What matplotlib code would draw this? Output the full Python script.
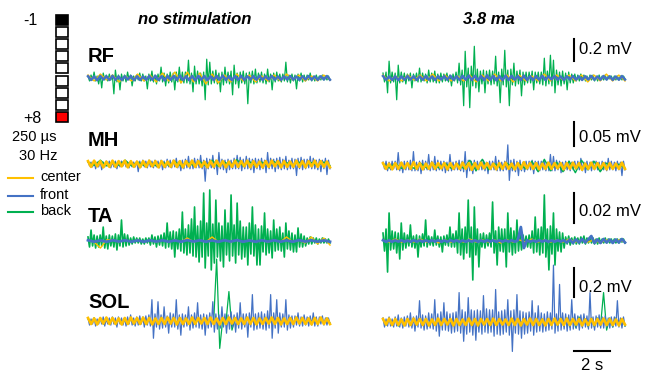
import numpy as np
import matplotlib.pyplot as plt
from matplotlib.patches import Rectangle

plt.rcParams['font.family'] = ['Liberation Sans', 'DejaVu Sans']

CENTER = '#FFC000'
FRONT = '#4472C4'
BACK = '#00B050'

DURATION = 13.4  # seconds shown in each panel

# EMG swings, in µV
rf_nostim_back = [18, -27, 27, -18, 54, -27, 18, -54, 27, -90, 45, -18, 27, -27, 36, -18,
                  27, -144, 72, -36, 27, -108, 36, -27, 27, -36, 54, -18, 27, -72, 18, -27,
                  27, -18, 45, -27, 36, -27, 18, -99, 36, -27, 63, -36, 27, -54, 36, -27,
                  99, -36, 45, -72, 36, -45, 54, -36, 45, -108, 54, -36, 99, -45, 54, -45,
                  54, -45, 162, -54, 45, -126, 108, -54, 63, -54, 45, -72, 54, -198, 171, -63,
                  144, -54, 63, -45, 72, -54, 45, -126, 54, -63, 99, -45, 54, -54, 63, -153,
                  117, -54, 45, -90, 54, -45, 63, -54, 45, -234, 54, -45, 63, -54, 81, -45,
                  45, -36, 54, -45, 36, -54, 81, -36, 36, -108, 45, -36, 54, -27, 36, -36,
                  36, -27, 144, -36, 27, -45, 36, -27, 27, -99, 36, -27, 45, -36, 27, -27,
                  27, -18, 45, -27, 18, -27, 27, -18, 18, -18, 27, -18, 18, -18, 18, -18]
rf_nostim_front = [16, -18, 14, -20, 18, -14, 16, -18, 20, -16, 14, -18, 16, -14, 18, -20, 16, -18, 14, -16,
                   18, -16, 20, -18, 16, -22, 18, -16, 20, -18, 22, -18, 16, -20, 18, -22, 20, -16, 18, -20,
                   16, -18, 20, -16, 22, -18, 16, -20, 18, -16, 20, -18, 16, -14, 18, -16, 20, -18, 16, -14,
                   18, -16, 14, -18, 16, -14, 18, -16, 14, -18, 16, -14, 18, -16, 14, -18, 16, -14, 18, -16]
rf_nostim_center = [27, -27, 36, -18, 27, -36, 18, -27, 36, -27, 27, -36, 45, -27, 54, -45, 54, -36, 45, -54,
                    36, -45, 27, -36, 36, -27, 27, -36, 18, -27, 27, -27, 36, -18, 27, -27, 18, -27, 27, -18]

rf_stim_back = [45, -36, 54, -135, 153, -45, 54, -36, 45, -198, 117, -45, 54, -36, 45, -54,
                36, -27, 45, -90, 36, -27, 45, -36, 90, -36, 45, -27, 36, -45, 72, -36,
                45, -36, 63, -45, 36, -45, 45, -36, 36, -27, 45, -36, 27, -72, 36, -27,
                54, -45, 135, -63, 72, -252, 243, -81, 90, -270, 108, -72, 288, -90, 81, -126,
                63, -54, 72, -135, 63, -54, 72, -63, 63, -54, 198, -72, 54, -225, 81, -63,
                252, -81, 72, -252, 81, -63, 135, -72, 63, -54, 72, -162, 54, -63, 54, -45,
                54, -45, 63, -108, 54, -45, 54, -54, 54, -63, 180, -72, 63, -54, 207, -72,
                162, -135, 72, -63, 54, -72, 63, -54, 45, -108, 54, -45, 36, -45, 36, -27,
                27, -27, 36, -18, 27, -27, 18, -27, 27, -18, 27, -27, 18, -27, 27, -18,
                18, -18, 27, -18, 18, -9, 18, -18, 18, -18, 18, -18, 18, -18, 18, -9]
rf_stim_front = [18, -16, 14, -18, 16, -20, 14, -16, 18, -14, 16, -18, 14, -16, 18, -16, 14, -18, 16, -14,
                 18, -16, 20, -18, 16, -18, 20, -16, 22, -18, 20, -22, 18, -20, 24, -18, 20, -22, 18, -20,
                 22, -18, 20, -16, 18, -20, 22, -18, 16, -20, 18, -16, 20, -18, 16, -14, 18, -16, 14, -18,
                 16, -14, 18, -16, 14, -18, 16, -14, 18, -16, 14, -16, 18, -14, 16, -18, 14, -16, 18, -14]
rf_stim_center = [27, -27, 18, -27, 27, -18, 27, -27, 36, -27, 27, -27, 18, -27, 27, -36, 27, -27, 36, -27,
                  27, -36, 27, -27, 18, -27, 36, -27, 27, -18, 27, -27, 27, -36, 27, -27, 36, -27, 27, -27]

mh_nostim_front = [6, -4, 4, -6, 6, -10, 4, -6, 6, -12, 4, -6, 6, -4, 6, -8,
                   4, -6, 6, -10, 4, -6, 6, -4, 6, -6, 4, -8, 6, -6, 4, -6,
                   6, -16, 6, -6, 8, -6, 6, -8, 8, -6, 6, -8, 8, -6, 6, -8,
                   8, -12, 6, -8, 10, -6, 8, -8, 8, -6, 12, -8, 6, -14, 8, -10,
                   10, -8, 16, -10, 8, -10, 12, -8, 10, -8, 18, -10, 8, -36, 12, -10,
                   10, -8, 18, -10, 8, -22, 24, -10, 10, -12, 8, -18, 10, -12, 8, -10,
                   12, -10, 18, -10, 14, -14, 10, -10, 16, -10, 12, -12, 10, -18, 12, -10,
                   10, -12, 12, -10, 8, -18, 24, -10, 12, -10, 10, -16, 12, -10, 14, -12,
                   10, -10, 16, -12, 8, -10, 12, -10, 10, -24, 12, -10, 14, -12, 10, -10,
                   10, -8, 16, -10, 12, -10, 8, -12, 10, -16, 8, -10, 12, -22, 8, -10]
mh_nostim_back = [4, -3, 8, -4, 5, -3, 8, -4, 4, -3, 3, -4, 4, -3, 5, -4, 4, -3, 5, -4,
                  8, -5, 4, -3, 9, -4, 5, -3, 4, -3, 5, -4, 3, -3, 4, -3, 3, -3, 4, -3]
mh_nostim_center = [6, -6, 7, -5, 6, -7, 5, -6, 7, -6, 6, -5, 7, -7, 6, -6, 5, -7, 6, -6,
                    7, -5, 6, -7, 6, -6, 5, -6, 7, -6, 6, -7, 6, -5, 7, -6, 6, -6, 5, -7,
                    6, -6, 7, -5, 6, -7, 5, -6, 7, -6, 6, -5, 7, -7, 6, -6, 5, -7, 6, -6,
                    7, -5, 6, -7, 6, -6, 5, -6, 7, -6, 6, -7, 6, -5, 7, -6, 6, -6, 5, -7]

mh_stim_front = [8, -6, 10, -10, 8, -8, 10, -6, 10, -8, 28, -10, 8, -14, 10, -8,
                 10, -8, 12, -10, 30, -10, 8, -10, 10, -16, 12, -8, 10, -8, 24, -10,
                 10, -8, 20, -10, 12, -8, 10, -10, 10, -14, 8, -10, 24, -10, 8, -8,
                 10, -8, 12, -10, 10, -12, 30, -24, 12, -10, 10, -16, 12, -10, 10, -8,
                 10, -8, 12, -10, 8, -16, 10, -8, 10, -8, 20, -10, 12, -10, 8, -10,
                 10, -8, 44, -30, 12, -10, 14, -12, 10, -20, 12, -10, 8, -12, 10, -8,
                 10, -8, 12, -16, 10, -8, 10, -10, 10, -8, 12, -10, 8, -10, 24, -10,
                 20, -10, 12, -8, 10, -14, 8, -10, 10, -8, 10, -10, 8, -8, 10, -8,
                 10, -8, 16, -10, 8, -14, 10, -8, 8, -10, 10, -8, 10, -8, 8, -10,
                 10, -8, 8, -10, 16, -8, 10, -8, 8, -10, 10, -8, 8, -20, 10, -8]
mh_stim_back = [5, -4, 6, -5, 4, -5, 6, -4, 5, -4, 6, -5, 4, -5, 12, -10, 14, -8, 5, -4,
                6, -5, 4, -6, 10, -12, 14, -10, 8, -12, 10, -14, 12, -8, 10, -12, 6, -5, 4, -5]
mh_stim_center = [6, -6, 5, -7, 6, -6, 7, -5, 6, -6, 8, -6, 6, -7, 5, -6, 7, -6, 6, -5,
                  6, -7, 6, -6, 5, -6, 7, -6, 6, -8, 6, -6, 7, -5, 6, -6, 5, -7, 6, -6,
                  7, -6, 5, -7, 6, -6, 8, -5, 6, -6, 6, -7, 5, -6, 7, -6, 6, -5, 6, -7,
                  6, -6, 7, -5, 6, -8, 5, -6, 7, -6, 6, -5, 6, -7, 6, -6, 5, -6, 7, -6]

ta_nostim_back = [2.7, -4.0, 7.3, -3.3, 4.0, -4.7, 3.3, -4.0, 4.0, -3.3, 9.3, -4.7, 3.3, -5.3, 4.0, -3.3,
                  3.3, -4.0, 4.7, -6.0, 4.0, -3.3, 14.0, -4.0, 4.7, -3.3, 4.0, -2.7, 2.0, -2.0, 2.7, -1.3,
                  2.0, -1.3, 2.0, -2.0, 1.3, -2.0, 2.0, -1.3, 2.0, -2.7, 4.0, -2.0, 2.7, -4.0, 3.3, -2.7,
                  4.0, -3.3, 5.3, -4.7, 12.0, -4.0, 6.0, -5.3, 6.7, -10.7, 6.0, -5.3, 8.0, -6.7, 19.3, -8.0,
                  8.0, -9.3, 10.7, -8.0, 14.7, -10.0, 22.7, -10.7, 10.0, -14.0, 13.3, -10.7, 32.0, -18.0, 12.0, -10.0,
                  34.0, -19.3, 11.3, -14.7, 27.3, -10.7, 12.0, -13.3, 10.0, -17.3, 20.7, -9.3, 12.0, -13.3, 30.7, -10.0,
                  10.7, -14.7, 25.3, -9.3, 13.3, -12.0, 9.3, -10.7, 9.3, -16.0, 12.0, -8.7, 22.7, -10.0, 10.7, -16.0,
                  8.0, -16.0, 10.0, -7.3, 18.7, -9.3, 8.0, -8.0, 6.7, -11.3, 14.0, -6.7, 8.0, -6.0, 9.3, -6.7,
                  5.3, -10.7, 12.0, -5.3, 6.7, -6.0, 5.3, -7.3, 4.0, -7.3, 8.7, -4.0, 4.7, -4.0, 3.3, -3.3,
                  2.0, -2.0, 2.7, -2.0, 2.0, -1.3, 2.0, -2.0, 1.3, -1.3, 2.0, -1.3, 1.3, -1.3, 1.3, -1.3]
ta_nostim_front = [0.5, -0.5, 0.4, -0.5, 0.5, -0.4, 0.5, -0.5, 0.4, -0.5, 0.5, -0.4, 0.5, -0.5, 0.4, -0.5, 0.6, -0.4, 0.5, -0.5,
                   0.4, -0.5, 0.5, -0.4, 0.6, -0.5, 0.4, -0.5, 0.5, -0.4, 0.5, -0.5, 0.4, -0.5, 0.6, -0.4, 0.5, -0.5, 0.4, -0.5]
ta_nostim_center = [0.7, -0.7, -4.7, 0.7, 0.7, -0.7, 0.7, -0.7, 0.7, -0.7, 0.7, -0.7, 0.7, -0.7, 0.7, -0.7, 2.0, -0.7, 0.7, -0.7,
                    2.7, -0.7, 0.7, -0.7, 0.7, -0.7, 0.7, -0.7, 0.7, -0.7, 0.7, -0.7, 2.7, -0.7, 0.7, -1.3, 2.7, -2.0, 2.0, -2.7]

ta_stim_back = [5.3, -6.7, 8.0, -20.7, 18.7, -6.0, 6.7, -5.3, 6.0, -8.0, 5.3, -12.0, 12.0, -6.0, 5.3, -4.7,
                4.0, -3.3, 10.7, -4.0, 3.3, -4.7, 4.0, -10.7, 3.3, -4.0, 4.7, -3.3, 14.0, -4.0, 3.3, -2.7,
                2.7, -3.3, 7.3, -2.7, 3.3, -4.0, 2.7, -7.3, 3.3, -2.7, 4.0, -3.3, 9.3, -4.0, 4.7, -4.0,
                6.7, -8.0, 18.7, -9.3, 8.0, -12.0, 9.3, -8.0, 27.3, -10.7, 9.3, -26.0, 22.7, -9.3, 8.0, -17.3,
                4.7, -4.0, 5.3, -4.7, 4.0, -3.3, 5.3, -4.0, 26.0, -8.0, 6.7, -16.0, 9.3, -6.7, 8.0, -7.3,
                8.0, -17.3, 18.7, -7.3, 8.7, -9.3, 6.7, -8.0, 14.0, -6.7, 5.3, -6.0, 4.0, -3.3, 3.3, -4.0,
                4.0, -4.7, 6.7, -8.0, 16.0, -7.3, 8.0, -9.3, 9.3, -8.0, 30.7, -10.7, 8.0, -19.3, 10.0, -8.7,
                18.7, -16.0, 8.0, -6.7, 6.0, -7.3, 5.3, -4.7, 2.7, -2.0, 3.3, -2.7, 2.0, -2.0, 2.7, -2.0,
                2.0, -2.0, 2.7, -1.3, 3.3, -2.0, 2.0, -1.3, 2.0, -1.3, 2.0, -2.0, 1.3, -2.0, 2.0, -1.3,
                1.3, -1.3, 2.0, -1.3, 1.3, -1.3, 1.3, -1.3, 1.3, -1.3, 1.3, -1.3, 1.3, -0.7, 1.3, -1.3]
ta_stim_front = [0.5, -0.5, 0.4, -0.5, 0.5, -0.4, 0.5, -0.5, 0.4, -0.5, 0.5, -0.4, 0.5, -0.5, 0.4, -0.5, 0.5, -0.4, 0.5, -0.5,
                 0.4, -0.5, 0.5, -0.4, 0.5, -0.5, 0.4, -0.5, 0.5, -0.4, 0.5, -0.5, 0.4, -0.5, 0.5, -0.4, 0.5, -0.5, 0.4, -0.5,
                 0.5, -0.4, 0.5, -0.5, 0.4, 9.3, -4.7, 0.5, -0.5, 0.4, -0.5, 0.5, -0.4, 0.5, -0.5, 0.4, -0.5, 0.5, -0.4, 0.5,
                 -1.0, 1.0, -1.3, 1.0, -1.0, 1.3, -1.0, 1.0, 3.3, -1.3, 1.0, -1.3, 1.3, -1.0, 1.0, -1.3, 1.0, -1.0, 1.3, -1.0]
ta_stim_center = [0.7, -0.7, 1.3, -0.7, 0.7, -0.7, 1.3, -0.7, 0.7, -1.3, 0.7, -0.7, 0.7, -0.7, 1.3, -0.7, 0.7, -0.7, 0.7, -1.3,
                  0.7, -0.7, 0.7, -0.7, 1.3, -0.7, 0.7, -0.7, 0.7, -0.7, 1.3, -0.7, 0.7, -0.7, 0.7, -1.3, 0.7, -0.7, 0.7, -0.7]

sol_nostim_front = [21, -28, 14, -21, 21, -35, 14, -21, 21, -21, 28, -35, 14, -21, 21, -28,
                    28, -21, 21, -42, 28, -21, 21, -28, 21, -35, 28, -21, 42, -28, 21, -35,
                    28, -28, 35, -21, 28, -42, 35, -28, 42, -35, 147, -119, 49, -42, 133, -56,
                    42, -49, 98, -42, 35, -84, 56, -42, 49, -42, 147, -56, 42, -98, 49, -42,
                    42, -35, 98, -63, 42, -49, 56, -42, 126, -49, 42, -56, 49, -98, 42, -49,
                    56, -42, 133, -77, 49, -56, 42, -49, 98, -42, 49, -84, 42, -56, 63, -42,
                    42, -77, 56, -49, 126, -56, 49, -42, 49, -112, 56, -42, 182, -63, 49, -56,
                    56, -49, 63, -56, 49, -63, 70, -49, 182, -119, 56, -49, 147, -84, 56, -42,
                    49, -42, 147, -63, 42, -49, 35, -42, 35, -28, 56, -35, 28, -35, 42, -28,
                    28, -35, 35, -28, 56, -35, 28, -35, 28, -21, 35, -28, 21, -28, 21, -21]
sol_nostim_back = [14, -14, 21, -14, 14, -21, 14, -14, 21, -14, 14, -14, 21, -14, 14, -21, 14, -14, 21, -14,
                   14, -21, 14, -14, 21, -14, 14, -14, 21, -14, 14, -21, 14, -14, 21, -14, 14, -14, 21, -14,
                   14, -14, 427, -189, 14, -14, 203, -63, 14, -21, 14, -14, 21, -14, 14, -21, 14, -14, 21, -14,
                   14, -14, 21, -14, 14, -21, 14, -14, 21, -14, 14, -21, 14, -14, 21, -14, 14, -14, 21, -14]
sol_nostim_center = [21, -21, 18, -24, 21, -18, 24, -21, 21, -21, 18, -24, 21, -21, 24, -18, 21, -21, 24, -21,
                     21, -24, 18, -21, 21, -21, 24, -18, 21, -24, 21, -21, 18, -21, 24, -21, 21, -18, 21, -21,
                     24, -21, 18, -24, 21, -21, 24, -18, 21, -21, 18, -21, 24, -21, 21, -24, 18, -21, 21, -18,
                     24, -21, 21, -24, 18, -21, 21, -21, 24, -18, 21, -21, 18, -24, 21, -21, 24, -21, 18, -21]

sol_stim_front = [28, -35, 21, -28, 35, -28, 21, -35, 35, -28, 49, -35, 28, -42, 35, -28,
                  42, -35, 63, -42, 35, -63, 42, -35, 147, -42, 49, -56, 42, -49, 63, -42,
                  56, -49, 154, -63, 56, -98, 70, -56, 133, -56, 70, -63, 56, -77, 63, -70,
                  70, -63, 203, -77, 84, -133, 70, -84, 168, -70, 84, -91, 77, -126, 84, -70,
                  77, -84, 182, -70, 91, -77, 84, -70, 84, -98, 224, -84, 70, -91, 77, -84,
                  84, -70, 154, -91, 77, -203, 84, -77, 189, -84, 77, -112, 70, -84, 63, -77,
                  70, -63, 147, -91, 63, -70, 112, -63, 63, -70, 56, -63, 70, -56, 63, -49,
                  392, -77, 56, -63, 259, -56, 63, -49, 56, -63, 49, -56, 154, -49, 56, -42,
                  42, -56, 49, -42, 56, -35, 42, -49, 203, -42, 35, -56, 42, -35, 49, -42,
                  35, -42, 42, -35, 28, -42, 35, -35, 35, -28, 147, -35, 28, -42, 35, -28]
sol_stim_back = [21, -21, 28, -21, 21, -28, 21, -21, 14, -21, 14, -14, 21, -14, 14, -21, 14, -14, 21, -14,
                 14, -14, 21, -14, 14, -21, 14, -14, 21, -14, 14, -21, 14, -14, 21, -14, 14, -21, 14, -14,
                 21, -14, 14, -21, 14, -14, 21, -14, 14, -21, 14, -14, 21, -14, 14, -21, 21, -28, 35, -28,
                 28, -35, 28, -42, 35, -28, 21, -35, 28, -35, 28, -28, 203, -56, 28, -35, 28, -21, 21, -28]
sol_stim_center = [21, -18, 24, -21, 21, -21, 18, -24, 21, -21, 24, -18, 21, -21, 21, -24, 18, -21, 24, -21,
                   21, -18, 21, -24, 21, -21, 18, -21, 24, -21, 21, -24, 21, -18, 21, -21, 24, -21, 21, -18,
                   18, -21, 24, -21, 21, -24, 21, -18, 24, -21, 21, -21, 18, -24, 21, -21, 24, -18, 21, -21,
                   24, -21, 21, -18, 21, -24, 18, -21, 21, -21, 21, -18, 24, -21, 21, -21, 18, -24, 21, -18]

muscles = ['RF', 'MH', 'TA', 'SOL']
conditions = ['no stimulation', '3.8 ma']
bar_mv = [0.2, 0.05, 0.02, 0.2]
legend_labels = ['center', 'front', 'back']

# traces per panel, drawn bottom to top: (values, colour, line width)
traces = {
    ('RF', 0): [(rf_nostim_back, BACK, 0.9), (rf_nostim_center, CENTER, 1.0), (rf_nostim_front, FRONT, 1.8)],
    ('RF', 1): [(rf_stim_back, BACK, 0.9), (rf_stim_center, CENTER, 1.0), (rf_stim_front, FRONT, 1.8)],
    ('MH', 0): [(mh_nostim_front, FRONT, 0.9), (mh_nostim_back, BACK, 1.0), (mh_nostim_center, CENTER, 1.9)],
    ('MH', 1): [(mh_stim_front, FRONT, 0.9), (mh_stim_back, BACK, 1.0), (mh_stim_center, CENTER, 1.9)],
    ('TA', 0): [(ta_nostim_back, BACK, 1.2), (ta_nostim_center, CENTER, 1.0), (ta_nostim_front, FRONT, 2.0)],
    ('TA', 1): [(ta_stim_back, BACK, 1.2), (ta_stim_center, CENTER, 1.0), (ta_stim_front, FRONT, 2.0)],
    ('SOL', 0): [(sol_nostim_back, BACK, 0.9), (sol_nostim_front, FRONT, 0.9), (sol_nostim_center, CENTER, 1.9)],
    ('SOL', 1): [(sol_stim_back, BACK, 0.9), (sol_stim_front, FRONT, 0.9), (sol_stim_center, CENTER, 1.9)],
}

# layout in pixels
W, H = 647, 374
col_x = [(88, 330), (383, 625)]
baseline = {'RF': (78, 78), 'MH': (164, 166), 'TA': (241, 241), 'SOL': (321, 322)}
bar_px = {'RF': 22, 'MH': 24, 'TA': 30, 'SOL': 29}
bar_bottom_px = {'RF': 17, 'MH': 20, 'TA': 18, 'SOL': 25}
bar_label_px = {'RF': 29, 'MH': 28, 'TA': 30, 'SOL': 34}
bar_t = 10.58
half = 45

fig = plt.figure(figsize=(W / 100, H / 100), dpi=100)

for r, m in enumerate(muscles):
    uv_px = bar_mv[r] * 1000 / bar_px[m]
    for c in range(2):
        x0, x1 = col_x[c]
        base = baseline[m][c]
        ax = fig.add_axes([x0 / W, 1 - (base + half) / H, (x1 - x0) / W, 2 * half / H])
        ax.set_xlim(0, DURATION)
        ax.set_ylim(-half * uv_px, half * uv_px)
        ax.axis('off')
        for z, (vals, color, lw) in enumerate(traces[(m, c)]):
            t = np.linspace(0, DURATION, len(vals))
            ax.plot(t, vals, color=color, lw=lw, zorder=z + 1, clip_on=False)
        if c == 1:
            y0 = bar_bottom_px[m] * uv_px
            ax.plot([bar_t, bar_t], [y0, y0 + bar_mv[r] * 1000], color='black', lw=1.5, clip_on=False)
            ax.text(bar_t + 0.3, bar_label_px[m] * uv_px, f'{bar_mv[r]:g} mV',
                    fontsize=12, va='center', ha='left', zorder=10)
            if m == 'SOL':
                yb = -28.5 * uv_px
                ax.plot([bar_t, bar_t + 2], [yb, yb], color='black', lw=1.5, clip_on=False)
                ax.text(bar_t + 1, -44 * uv_px, '2 s', fontsize=12, ha='center', va='center')
    fig.text(88 / W, 1 - [56, 141, 217, 302][r] / H, m, fontsize=14.5, fontweight='bold',
             ha='left', va='center')

fig.text(195 / W, 1 - 19 / H, conditions[0], fontsize=12, fontweight='bold', style='italic',
         ha='center', va='center')
fig.text(489 / W, 1 - 19 / H, conditions[1], fontsize=12, fontweight='bold', style='italic',
         ha='center', va='center')

# electrode column
el = fig.add_axes([0, 0, 1, 1])
el.set_xlim(0, W)
el.set_ylim(H, 0)
el.axis('off')
for i in range(9):
    face = 'black' if i == 0 else ('red' if i == 8 else 'white')
    el.add_patch(Rectangle((56, 15 + 12.1 * i), 12, 10, facecolor=face, edgecolor='black', lw=1.2))
el.text(23, 20, '-1', fontsize=11.5, ha='left', va='center')
el.text(23, 118, '+8', fontsize=11.5, ha='left', va='center')
el.text(12, 137, '250 µs', fontsize=10.5, ha='left', va='center')
el.text(19, 156, '30 Hz', fontsize=10.5, ha='left', va='center')
for k, (lab, color) in enumerate(zip(legend_labels, [CENTER, FRONT, BACK])):
    y = [178, 196, 212][k]
    el.plot([8, 33], [y, y], color=color, lw=1.5)
    el.text(40, y - 1, lab, fontsize=10.5, ha='left', va='center')

fig.savefig('out.png', dpi=100)
